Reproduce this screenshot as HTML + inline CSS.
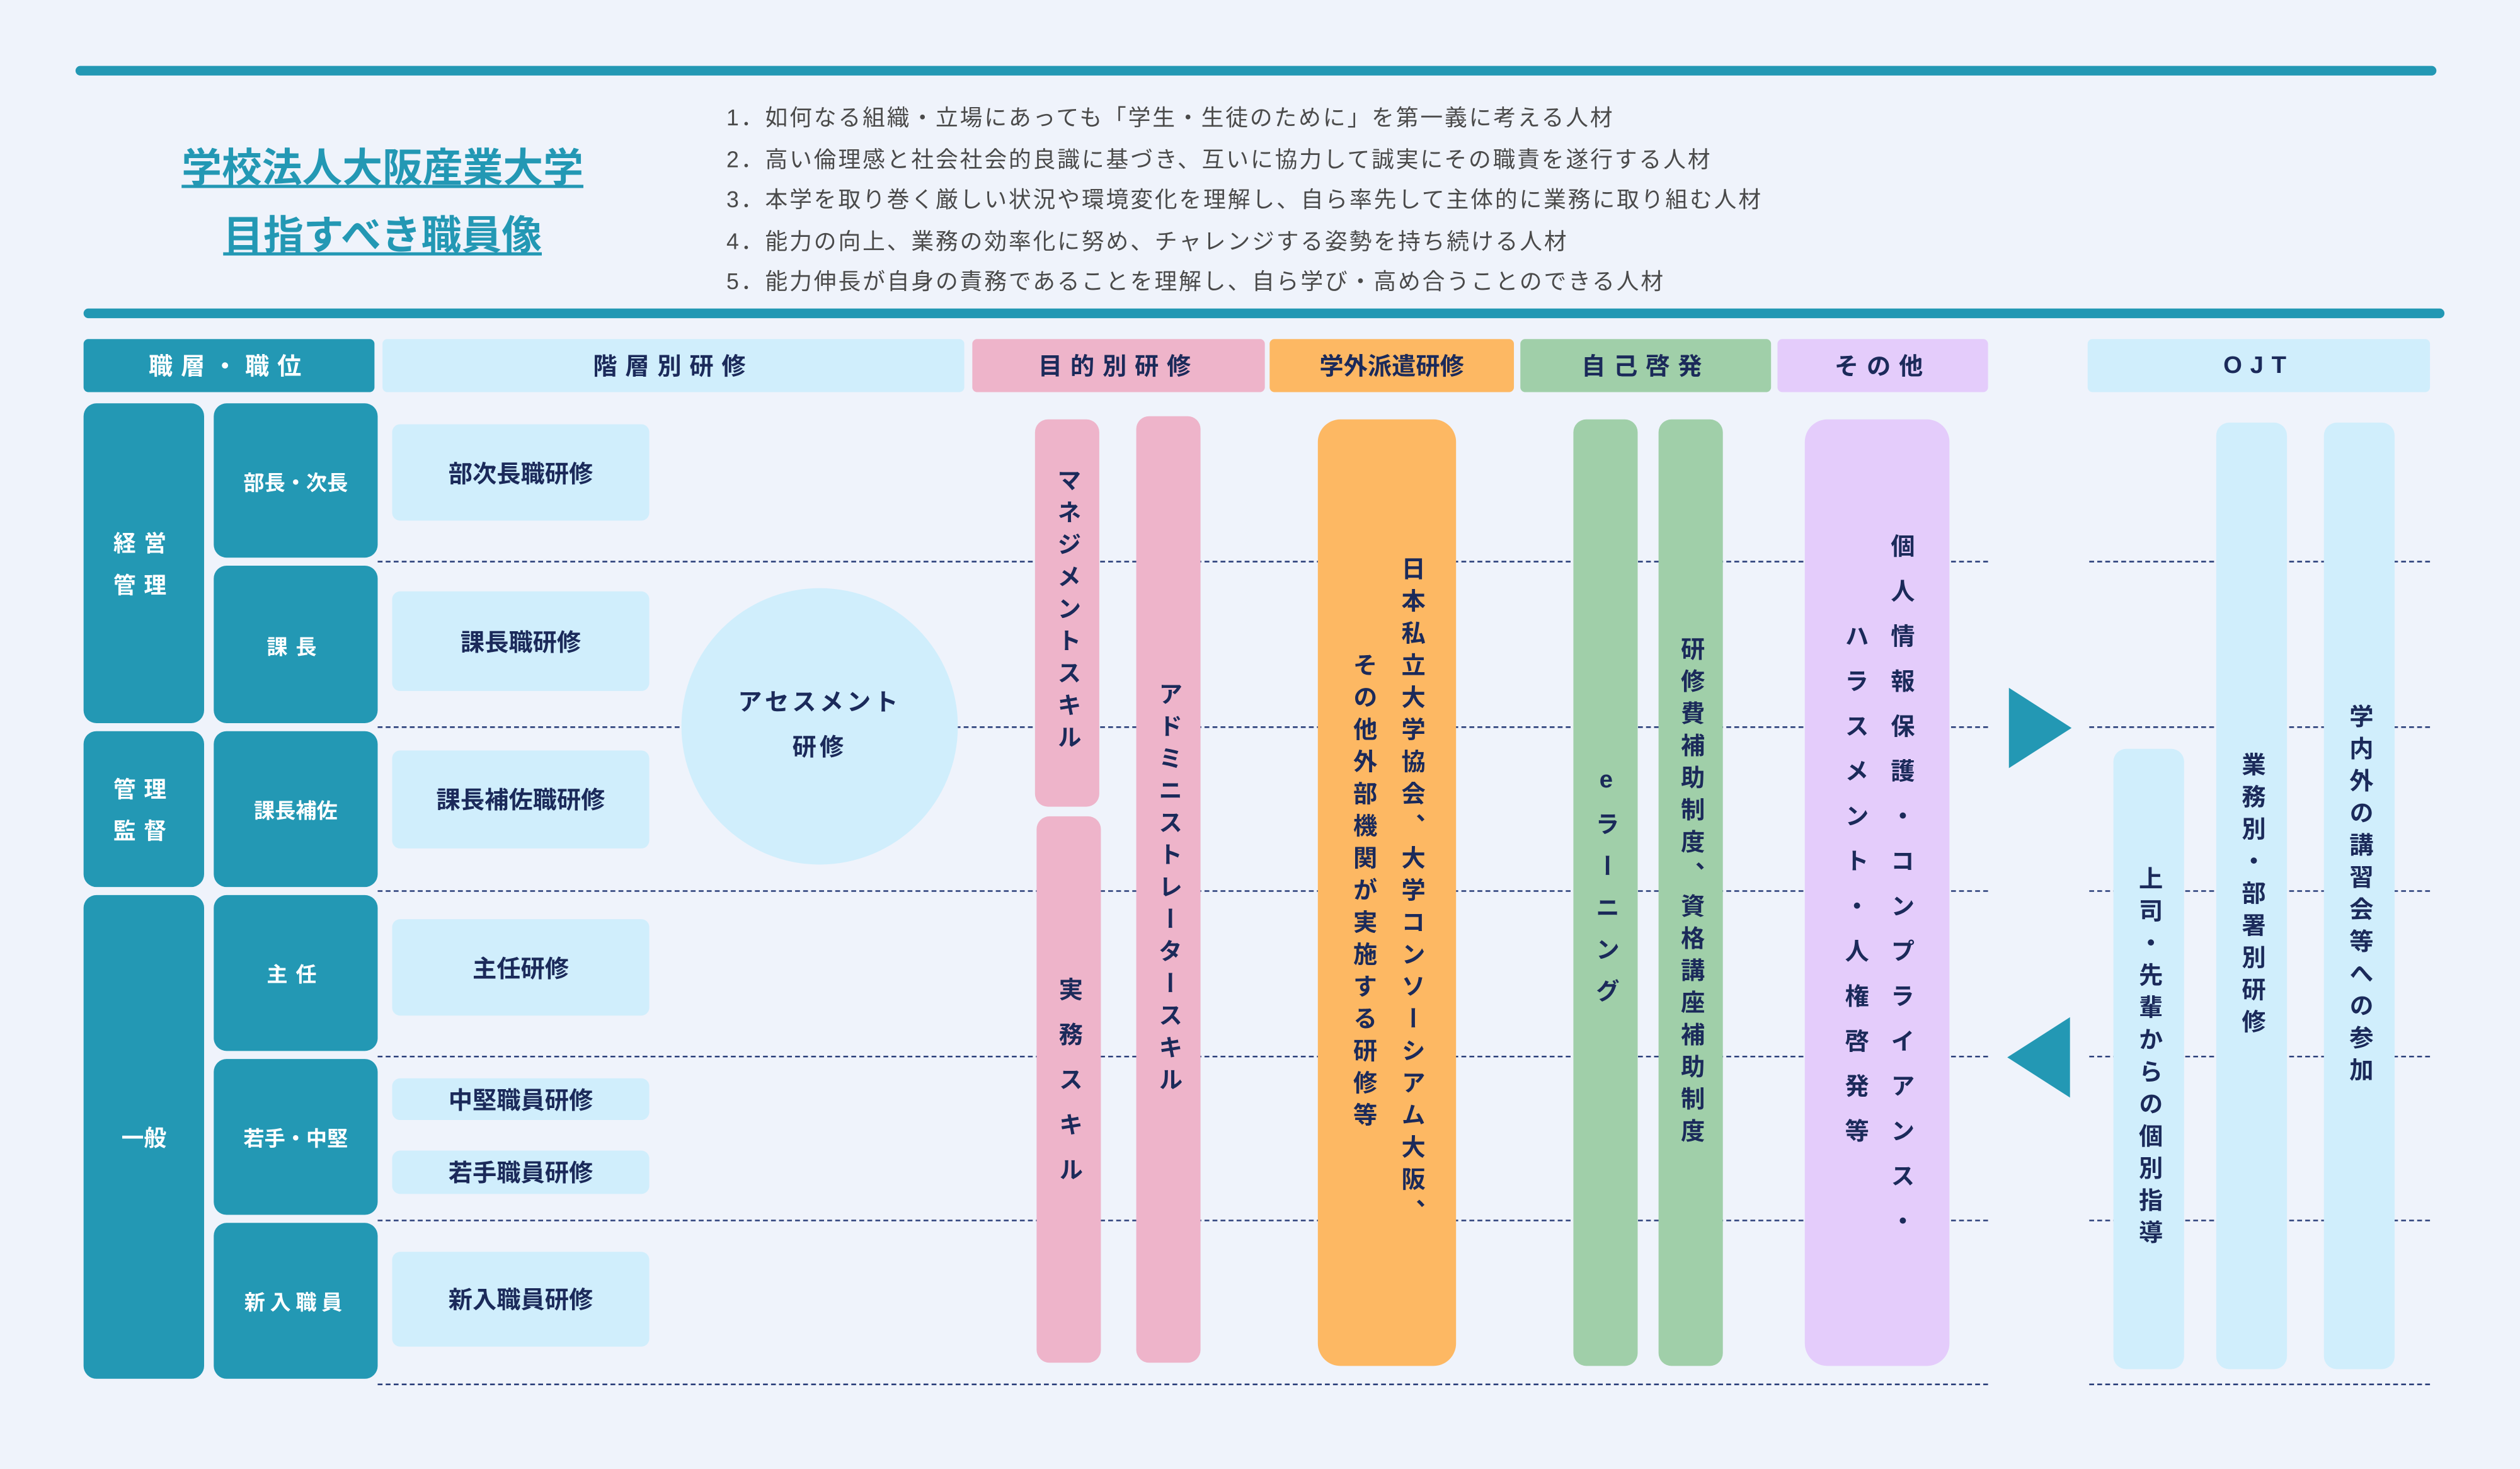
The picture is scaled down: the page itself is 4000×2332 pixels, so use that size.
<!DOCTYPE html>
<html><head><meta charset="utf-8"><style>
html,body{margin:0;padding:0;background:#eff3fb;}
body{width:4000px;height:2332px;overflow:hidden;position:relative;}
#c{position:absolute;left:0;top:0;width:1568px;height:914px;transform:scale(2.551);transform-origin:0 0;font-family:"Liberation Sans","Noto Sans CJK JP",sans-serif;font-weight:bold;color:#1b2a5a;}
.a{position:absolute;box-sizing:border-box;}
.bar{background:#2398b4;height:6px;border-radius:3px;}
.h{display:flex;align-items:center;justify-content:center;font-size:15px;letter-spacing:5px;border-radius:3px;}
.t{background:#2398b4;color:#fff;display:flex;align-items:center;justify-content:center;text-align:center;border-radius:8px;font-size:13px;}
.lb{background:#d0eefc;border-radius:5px;display:flex;align-items:center;justify-content:center;font-size:15px;}
.v{writing-mode:vertical-rl;text-orientation:upright;display:flex;align-items:center;justify-content:center;font-size:15px;letter-spacing:5px;border-radius:8px;line-height:1.45;text-align:center;}
.d{position:absolute;height:0;border-top:1.2px dashed #2b3f7a;}
.li{position:absolute;left:452px;font-size:14px;letter-spacing:1.15px;color:#4a4a4a;font-weight:normal;white-space:nowrap;}
</style></head><body><div id="c">
<div class="a bar" style="left:47px;top:41px;width:1469px"></div>
<div class="a bar" style="left:52px;top:192px;width:1469px"></div>
<div class="a" style="left:90px;top:84px;width:296px;text-align:center;color:#2398b4;font-size:25px;text-decoration:underline;line-height:42px">学校法人大阪産業大学<br>目指すべき職員像</div>
<div class="li" style="top:63px">1．如何なる組織・立場にあっても「学生・生徒のために」を第一義に考える人材</div>
<div class="li" style="top:89px">2．高い倫理感と社会社会的良識に基づき、互いに協力して誠実にその職責を遂行する人材</div>
<div class="li" style="top:114px">3．本学を取り巻く厳しい状況や環境変化を理解し、自ら率先して主体的に業務に取り組む人材</div>
<div class="li" style="top:140px">4．能力の向上、業務の効率化に努め、チャレンジする姿勢を持ち続ける人材</div>
<div class="li" style="top:165px">5．能力伸長が自身の責務であることを理解し、自ら学び・高め合うことのできる人材</div>

<div class="a h" style="left:52px;top:211px;width:181px;height:33px;background:#2398b4;color:#fff">職層・職位</div>
<div class="a h" style="left:238px;top:211px;width:362px;height:33px;background:#d0eefc">階層別研修</div>
<div class="a h" style="left:605px;top:211px;width:182px;height:33px;background:#eeb4ca">目的別研修</div>
<div class="a h" style="left:790px;top:211px;width:152px;height:33px;background:#fdb863;letter-spacing:0">学外派遣研修</div>
<div class="a h" style="left:946px;top:211px;width:156px;height:33px;background:#a0cfa9">自己啓発</div>
<div class="a h" style="left:1106px;top:211px;width:131px;height:33px;background:#e4ccfb">その他</div>
<div class="a h" style="left:1299px;top:211px;width:213px;height:33px;background:#d0eefc">OJT</div>

<div class="d" style="left:235px;top:349px;width:1002px"></div>
<div class="d" style="left:235px;top:452px;width:1002px"></div>
<div class="d" style="left:235px;top:554px;width:1002px"></div>
<div class="d" style="left:235px;top:657px;width:1002px"></div>
<div class="d" style="left:235px;top:759px;width:1002px"></div>
<div class="d" style="left:235px;top:861px;width:1002px"></div>
<div class="d" style="left:1300px;top:349px;width:212px"></div>
<div class="d" style="left:1300px;top:452px;width:212px"></div>
<div class="d" style="left:1300px;top:554px;width:212px"></div>
<div class="d" style="left:1300px;top:657px;width:212px"></div>
<div class="d" style="left:1300px;top:759px;width:212px"></div>
<div class="d" style="left:1300px;top:861px;width:212px"></div>

<div class="a t" style="left:52px;top:251px;width:75px;height:199px;font-size:14px;letter-spacing:5px;line-height:26px">経営<br>管理</div>
<div class="a t" style="left:52px;top:455px;width:75px;height:97px;font-size:14px;letter-spacing:5px;line-height:26px">管理<br>監督</div>
<div class="a t" style="left:52px;top:557px;width:75px;height:301px;font-size:14px">一般</div>
<div class="a t" style="left:133px;top:251px;width:102px;height:96px">部長・次長</div>
<div class="a t" style="left:133px;top:352px;width:102px;height:98px;letter-spacing:5px">課長</div>
<div class="a t" style="left:133px;top:455px;width:102px;height:97px">課長補佐</div>
<div class="a t" style="left:133px;top:557px;width:102px;height:97px;letter-spacing:5px">主任</div>
<div class="a t" style="left:133px;top:659px;width:102px;height:97px">若手・中堅</div>
<div class="a t" style="left:133px;top:761px;width:102px;height:97px;letter-spacing:3px">新入職員</div>

<div class="a lb" style="left:244px;top:264px;width:160px;height:60px">部次長職研修</div>
<div class="a lb" style="left:244px;top:368px;width:160px;height:62px">課長職研修</div>
<div class="a lb" style="left:244px;top:467px;width:160px;height:61px">課長補佐職研修</div>
<div class="a lb" style="left:244px;top:572px;width:160px;height:60px">主任研修</div>
<div class="a lb" style="left:244px;top:671px;width:160px;height:26px">中堅職員研修</div>
<div class="a lb" style="left:244px;top:716px;width:160px;height:27px">若手職員研修</div>
<div class="a lb" style="left:244px;top:779px;width:160px;height:59px">新入職員研修</div>
<div class="a lb" style="left:424px;top:366px;width:172px;height:172px;border-radius:50%;text-align:center;line-height:28px;letter-spacing:2px">アセスメント<br>研修</div>

<div class="a v" style="left:644px;top:261px;width:40px;height:241px;background:#eeb4ca;justify-content:flex-start;padding-top:30px">マネジメントスキル</div>
<div class="a v" style="left:645px;top:508px;width:40px;height:340px;background:#eeb4ca;letter-spacing:13px">実務スキル</div>
<div class="a v" style="left:707px;top:259px;width:40px;height:589px;background:#eeb4ca">アドミニストレータースキル</div>
<div class="a v" style="left:820px;top:261px;width:86px;height:589px;background:#fdb863;border-radius:14px;line-height:2">日本私立大学協会、大学コンソーシアム大阪、<br>その他外部機関が実施する研修等</div>
<div class="a v" style="left:979px;top:261px;width:40px;height:589px;background:#a0cfa9;letter-spacing:11px">eラーニング</div>
<div class="a v" style="left:1032px;top:261px;width:40px;height:589px;background:#a0cfa9">研修費補助制度、資格講座補助制度</div>
<div class="a v" style="left:1123px;top:261px;width:90px;height:589px;background:#e4ccfb;border-radius:14px;letter-spacing:13px;line-height:1.9">個人情報保護・コンプライアンス・<br>ハラスメント・人権啓発等</div>

<svg class="a" style="left:1245px;top:425px" width="50" height="262"><polygon points="5,3 44,28 5,53" fill="#2398b4"/><polygon points="43,208 4,233 43,258" fill="#2398b4"/></svg>

<div class="a v" style="left:1315px;top:466px;width:44px;height:386px;background:#d0eefc">上司・先輩からの個別指導</div>
<div class="a v" style="left:1379px;top:263px;width:44px;height:589px;background:#d0eefc">業務別・部署別研修</div>
<div class="a v" style="left:1446px;top:263px;width:44px;height:589px;background:#d0eefc">学内外の講習会等への参加</div>
</div></body></html>
